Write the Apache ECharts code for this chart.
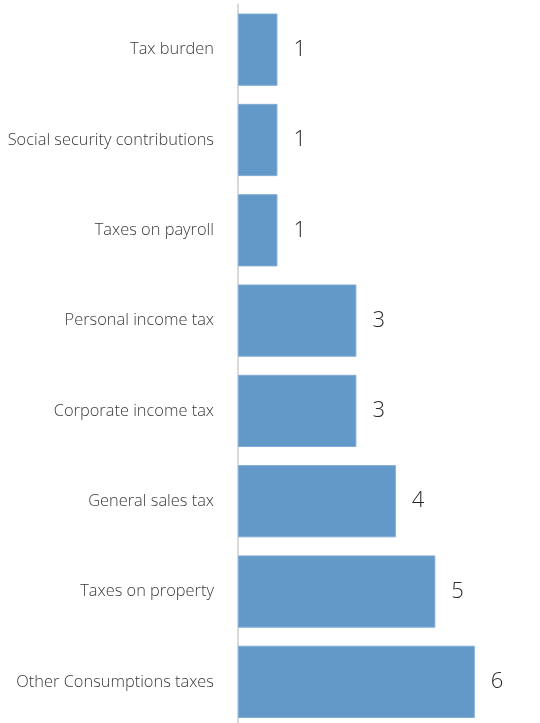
<!DOCTYPE html>
<html>
<head>
<meta charset="utf-8">
<script src="https://cdn.jsdelivr.net/npm/echarts@6/dist/echarts.min.js"></script>
<style>
html,body{margin:0;padding:0;background:#fff;}
#chart{width:540px;height:723px;}
</style>
</head>
<body>
<div id="chart"></div>
<script>
// Tax categories, top to bottom
const categories = [
  "Tax burden",
  "Social security contributions",
  "Taxes on payroll",
  "Personal income tax",
  "Corporate income tax",
  "General sales tax",
  "Taxes on property",
  "Other Consumptions taxes"
];
const values = [1, 1, 1, 3, 3, 4, 5, 6];

const chart = echarts.init(document.getElementById('chart'), null, {renderer: 'canvas'});
chart.setOption({
  animation: false,
  grid: {
    left: 238, width: 296, top: 4.5, height: 722.5,
    containLabel: false,
    outerBoundsMode: 'none'
  },
  xAxis: {
    type: 'value', min: 0, max: 7.5,
    show: false
  },
  yAxis: {
    type: 'category',
    data: categories,
    inverse: true,
    axisLine: {show: true, lineStyle: {color: '#d9d9d9', width: 2}},
    axisTick: {show: false},
    axisLabel: {
      margin: 24,
      padding: [0, 0, 4, 0],
      fontFamily: 'Open Sans',
      fontWeight: 300,
      fontSize: 16.4,
      color: '#3a3a3a'
    }
  },
  series: [{
    type: 'bar',
    data: values,
    barCategoryGap: '20%',
    itemStyle: {color: '#6399c8', borderColor: '#80acd6', borderWidth: 1},
    label: {
      show: true,
      position: 'right',
      distance: 16,
      fontFamily: 'Open Sans',
      fontWeight: 300,
      fontSize: 22,
      color: '#2a2a2a'
    }
  }]
});
</script>
</body>
</html>
